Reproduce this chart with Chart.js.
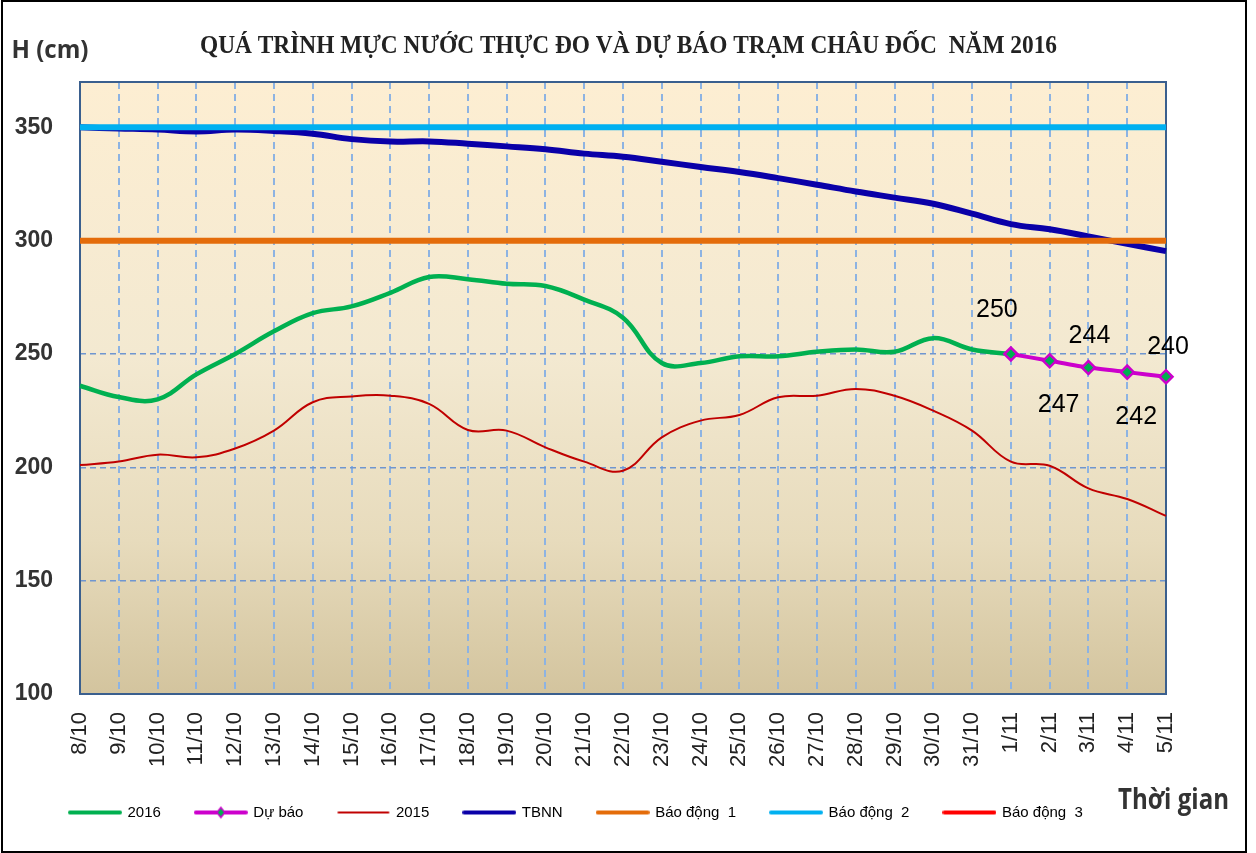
<!DOCTYPE html>
<html><head><meta charset="utf-8">
<script src="https://cdn.jsdelivr.net/npm/chart.js@4/dist/chart.umd.min.js"></script>
<style>html,body{margin:0;padding:0;background:#fff}#wrap{position:relative;width:1256px;height:853px}canvas{display:block}</style>
</head><body><div id="wrap"><canvas id="c" width="1256" height="853"></canvas></div>
<script>
const labels = ['8/10','9/10','10/10','11/10','12/10','13/10','14/10','15/10','16/10','17/10','18/10','19/10','20/10','21/10','22/10','23/10','24/10','25/10','26/10','27/10','28/10','29/10','30/10','31/10','1/11','2/11','3/11','4/11','5/11'];
const yTicks = [100,150,200,250,300,350];
const h2016 = [236,231,230,241,250,260,268,271,277,284,283,281,280,274,266,246,246,249,249,251,252,251,257,252,250,null,null,null,null];
const duBao = [null,null,null,null,null,null,null,null,null,null,null,null,null,null,null,null,null,null,null,null,null,null,null,null,250,247,244,242,240];
const h2015 = [201,202.6,205.6,204.4,208.3,216.2,228.7,231.3,231.6,228,216.5,216.2,208.8,202.5,198.5,213.2,220.6,223.1,230.9,231.6,234.6,231.6,225,216.2,202.5,200.7,190.7,186,178.6];
const tbnn = [350,349.5,349,348.2,349,348.4,347.2,344.8,343.7,343.8,342.8,341.6,340.3,338.4,337,334.8,332.5,330.3,327.6,324.7,321.7,319,316.3,311.9,307.3,305,301.9,298.6,295.4];
const baoDong1 = 300;
const baoDong2 = 350;
const baoDong3 = [];
const forecastLabels = ['250','247','244','242','240'];

const labelOffsets = [[-14,-44],[9,44],[1,-31],[9,45],[2,-30]];

function legendImg(color, width, marker){
  const c = document.createElement('canvas');
  c.width = 54; c.height = 14;
  const g = c.getContext('2d');
  g.strokeStyle = color; g.lineWidth = width; g.lineCap = 'round';
  g.beginPath(); g.moveTo(2,7); g.lineTo(52,7); g.stroke();
  if (marker){
    g.fillStyle = '#00B050'; g.strokeStyle = '#CC00CC'; g.lineWidth = 1.5;
    g.beginPath(); g.moveTo(27,2); g.lineTo(31,7); g.lineTo(27,12); g.lineTo(23,7); g.closePath(); g.fill(); g.stroke();
  }
  return c;
}

const datasets = [
  {label:'2016', data:h2016, borderColor:'#00B050', borderWidth:4.5, pointRadius:0, tension:0.4, order:4, _leg:legendImg('#00B050',4)},
  {label:'Dự báo', data:duBao, borderColor:'#CC00CC', borderWidth:4, pointStyle:'rectRot', pointRadius:6.5, pointHoverRadius:6.5, pointBackgroundColor:'#00B050', pointBorderColor:'#CC00CC', pointBorderWidth:2.5, tension:0.2, order:3, _leg:legendImg('#CC00CC',4,true)},
  {label:'2015', data:h2015, borderColor:'#C00000', borderWidth:2, pointRadius:0, tension:0.4, order:5, _leg:legendImg('#C00000',2)},
  {label:'TBNN', data:tbnn, borderColor:'#0A00A8', borderWidth:6, pointRadius:0, tension:0.4, order:6, _leg:legendImg('#0A00A8',4)},
  {label:'Báo động  1', data:labels.map(()=>baoDong1), borderColor:'#E46C0A', borderWidth:6, pointRadius:0, order:1, _leg:legendImg('#E46C0A',4)},
  {label:'Báo động  2', data:labels.map(()=>baoDong2), borderColor:'#00B0F0', borderWidth:6, pointRadius:0, order:0, _leg:legendImg('#00B0F0',4)},
  {label:'Báo động  3', data:baoDong3, borderColor:'#FF0000', borderWidth:6, pointRadius:0, order:2, _leg:legendImg('#FF0000',4)}
];

function fitText(ctx, text, font, color, cx, baseY, width){
  ctx.save();
  ctx.font = font;
  const w = ctx.measureText(text).width;
  ctx.translate(cx, baseY);
  ctx.scale(width / w, 1);
  ctx.fillStyle = color;
  ctx.textAlign = 'center';
  ctx.textBaseline = 'alphabetic';
  ctx.fillText(text, 0, 0);
  ctx.restore();
}

const decor = {
  id:'decor',
  afterLayout(chart){
    if (chart.legend) { chart.legend.left = 35; }
  },
  beforeDraw(chart){
    const {ctx, chartArea:a} = chart;
    ctx.save();
    ctx.fillStyle = '#fff';
    ctx.fillRect(0,0,chart.width,chart.height);
    const g = ctx.createLinearGradient(0,a.top,0,a.bottom);
    g.addColorStop(0,'#FDEED2');
    g.addColorStop(0.45,'#F3E9D1');
    g.addColorStop(0.75,'#E7DBBC');
    g.addColorStop(1,'#D3C49E');
    ctx.fillStyle = g;
    ctx.fillRect(a.left,a.top,a.right-a.left,a.bottom-a.top);
    ctx.restore();
  },
  beforeDatasetsDraw(chart){
    const {ctx, chartArea:a} = chart;
    ctx.save();
    ctx.strokeStyle = '#3A5F8E';
    ctx.lineWidth = 2;
    ctx.strokeRect(a.left,a.top,a.right-a.left,a.bottom-a.top);
    ctx.restore();
  },
  afterDatasetsDraw(chart){
    const {ctx} = chart;
    const meta = chart.getDatasetMeta(1);
    ctx.save();
    ctx.font = '25px "Liberation Sans", Arial, sans-serif';
    ctx.fillStyle = '#000';
    ctx.textAlign = 'center';
    ctx.textBaseline = 'middle';
    let k = 0;
    meta.data.forEach((p, i) => {
      if (duBao[i] == null) return;
      const o = labelOffsets[k];
      ctx.fillText(forecastLabels[k], p.x + o[0], p.y + o[1]);
      k++;
    });
    ctx.restore();
  },
  afterDraw(chart){
    const {ctx} = chart;
    fitText(ctx, 'QUÁ TRÌNH MỰC NƯỚC THỰC ĐO VÀ DỰ BÁO TRẠM CHÂU ĐỐC  NĂM 2016', 'bold 26px "Liberation Serif", "Times New Roman", serif', '#222', 628.5, 53, 857);
    fitText(ctx, 'H (cm)', 'bold 25px "Open Sans", sans-serif', '#333', 50, 58, 77);
    fitText(ctx, 'Thời gian', 'bold 28px "Open Sans", sans-serif', '#333', 1173.5, 809, 111);
    ctx.save();
    ctx.strokeStyle = '#000';
    ctx.lineWidth = 2;
    ctx.strokeRect(2,1,1244,851);
    ctx.restore();
  }
};

new Chart(document.getElementById('c'), {
  type:'line',
  data:{labels, datasets},
  plugins:[decor],
  options:{
    responsive:false,
    animation:false,
    devicePixelRatio:1,
    layout:{padding:{left:0,right:90,top:82,bottom:23}},
    plugins:{
      title:{display:false},
      tooltip:{enabled:false},
      legend:{
        position:'bottom',
        align:'start',
        labels:{
          usePointStyle:true,
          pointStyleWidth:50,
          padding:35,
          color:'#404040',
          font:{family:'"Liberation Sans", Arial, sans-serif', size:15},
          generateLabels(chart){
            return chart.data.datasets.map((d,i)=>({
              text:d.label, pointStyle:d._leg, datasetIndex:i, hidden:false,
              fillStyle:d.borderColor, strokeStyle:d.borderColor, lineWidth:0
            }));
          }
        }
      }
    },
    scales:{
      x:{
        offset:false,
        border:{display:false, dash:[7,5]},
        grid:{color:'#8DB3E2', lineWidth:2, drawTicks:false},
        ticks:{autoSkip:false, minRotation:90, maxRotation:90, padding:18, color:'#222',
          font:{family:'"Liberation Sans", Arial, sans-serif', size:22}},
        afterFit(s){ s.height = 76; }
      },
      y:{
        min:100, max:370,
        border:{display:false, dash:[6,4]},
        grid:{color:'#6F96D0', lineWidth:1.5, drawTicks:false},
        ticks:{stepSize:50, padding:27, color:'#333',
          font:{family:'"Liberation Sans", Arial, sans-serif', size:23, weight:'bold'}},
        afterBuildTicks(s){ s.ticks = yTicks.map(v=>({value:v})); },
        afterFit(s){ s.width = 80; }
      }
    }
  }
});
</script>
</body></html>
